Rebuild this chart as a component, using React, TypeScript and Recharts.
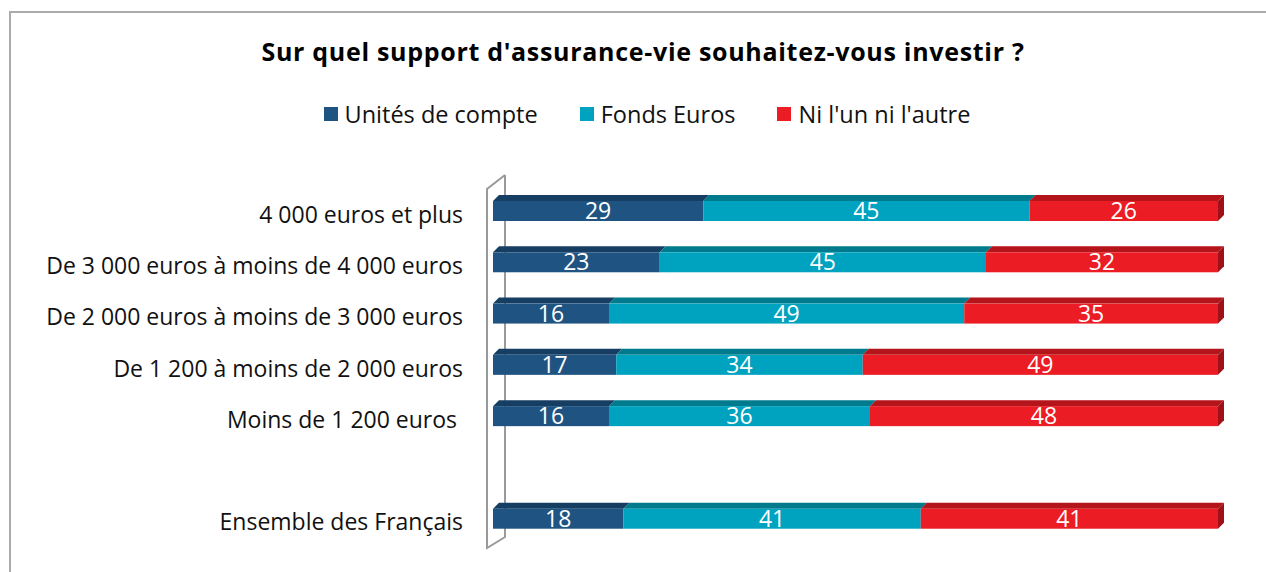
import { BarChart, Bar, XAxis, YAxis, LabelList } from "recharts";

const categories = [
  "4 000 euros et plus",
  "De 3 000 euros à moins de 4 000 euros",
  "De 2 000 euros à moins de 3 000 euros",
  "De 1 200 à moins de 2 000 euros",
  "Moins de 1 200 euros ",
  "",
  "Ensemble des Français",
];
const unites = [29, 23, 16, 17, 16, null, 18];
const fonds = [45, 45, 49, 34, 36, null, 41];
const niLun = [26, 32, 35, 49, 48, null, 41];

const seriesNames = ["Unités de compte", "Fonds Euros", "Ni l'un ni l'autre"];

const data = categories.map((name, i) => ({
  name,
  unites: unites[i],
  fonds: fonds[i],
  niLun: niLun[i],
}));

const DEPTH = 6;
const FONT = "'Open Sans', sans-serif";

const palette = [
  { front: "#1f5482", top: "#163e62", side: "#123452" },
  { front: "#00a3bf", top: "#007b8d", side: "#006675" },
  { front: "#ec1c24", top: "#b4151b", side: "#9e1217" },
];

function make3d(idx: number, last: boolean) {
  return (props: any) => {
    const { x, y, width, height } = props;
    if (!width || width <= 0) return <g />;
    const c = palette[idx];
    const d = DEPTH;
    return (
      <g>
        <polygon
          points={`${x},${y} ${x + d},${y - d} ${x + width + d},${y - d} ${x + width},${y}`}
          fill={c.top}
        />
        {last && (
          <polygon
            points={`${x + width},${y} ${x + width + d},${y - d} ${x + width + d},${y + height - d} ${x + width},${y + height}`}
            fill={c.side}
          />
        )}
        <rect x={x} y={y} width={width} height={height} fill={c.front} />
      </g>
    );
  };
}

function CatTick(props: any) {
  const { x, y, payload } = props;
  return (
    <text
      x={x - 22}
      y={y}
      dy={12}
      textAnchor="end"
      fill="#111"
      fontSize={23}
      fontFamily={FONT}
      style={{ whiteSpace: "pre" }}
    >
      {payload.value}
    </text>
  );
}

function LegendBox() {
  return (
    <div
      style={{
        position: "absolute",
        left: 0,
        top: 98,
        width: 1294,
        display: "flex",
        justifyContent: "center",
        gap: 42,
        fontFamily: FONT,
        fontSize: 23.5,
        color: "#111",
      }}
    >
      {seriesNames.map((n, i) => (
        <div key={n} style={{ display: "flex", alignItems: "center", gap: 7 }}>
          <div style={{ width: 14, height: 14, background: palette[i].front }} />
          <span>{n}</span>
        </div>
      ))}
    </div>
  );
}

export default function App() {
  const label = { fill: "#fff", fontSize: 23, fontFamily: FONT };
  return (
    <div
      style={{
        position: "absolute",
        left: 0,
        top: 0,
        width: 1266,
        height: 572,
        overflow: "hidden",
        background: "#fff",
      }}
    >
      <div
        style={{
          position: "absolute",
          left: 9,
          top: 11,
          width: 1400,
          height: 700,
          border: "2px solid #ababab",
        }}
      />
      <svg
        width={1266}
        height={572}
        style={{ position: "absolute", left: 0, top: 0 }}
      >
        <polyline
          points="505,175 487,189 487,548 505,537 505,175"
          fill="none"
          stroke="#9a9a9a"
          strokeWidth={2}
        />
      </svg>
      <div
        style={{
          position: "absolute",
          left: 0,
          top: 34,
          width: 1286,
          textAlign: "center",
          fontFamily: FONT,
          fontWeight: 700,
          fontSize: 25,
          letterSpacing: 0.7,
          color: "#000",
        }}
      >
        Sur quel support d'assurance-vie souhaitez-vous investir ?
      </div>
      <LegendBox />
      <div style={{ position: "absolute", left: 0, top: 0 }}>
        <BarChart
          width={1266}
          height={572}
          data={data}
          layout="vertical"
          margin={{ top: 185, right: 48, bottom: 28, left: 0 }}
          barSize={20}
        >
          <XAxis type="number" domain={[0, 100]} hide />
          <YAxis
            type="category"
            dataKey="name"
            width={493}
            axisLine={false}
            tickLine={false}
            tick={<CatTick />}
            interval={0}
          />
          <Bar dataKey="unites" stackId="a" name={seriesNames[0]} shape={make3d(0, false)} isAnimationActive={false}>
            <LabelList dataKey="unites" position="center" {...label} />
          </Bar>
          <Bar dataKey="fonds" stackId="a" name={seriesNames[1]} shape={make3d(1, false)} isAnimationActive={false}>
            <LabelList dataKey="fonds" position="center" {...label} />
          </Bar>
          <Bar dataKey="niLun" stackId="a" name={seriesNames[2]} shape={make3d(2, true)} isAnimationActive={false}>
            <LabelList dataKey="niLun" position="center" {...label} />
          </Bar>
        </BarChart>
      </div>
    </div>
  );
}
